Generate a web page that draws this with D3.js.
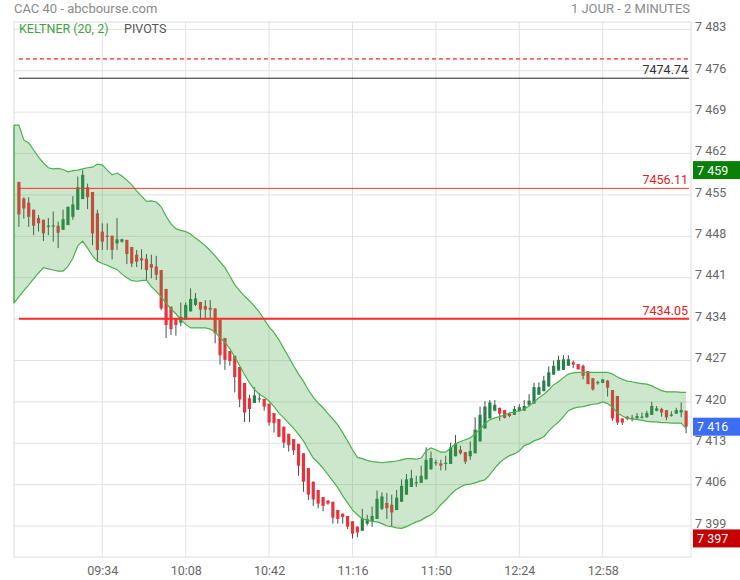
<!DOCTYPE html>
<html>
<head>
<meta charset="utf-8">
<script src="https://cdn.jsdelivr.net/npm/d3@7"></script>
<style>
    body { margin: 0; background: #fff; font-family: Roboto, "Open Sans", sans-serif; }
</style>
</head>
<body>
<svg id="chart" width="740" height="580"></svg>
<script>
// --- data (2 minute candles from 09:00) ---
const startTime = "09:00"
const stepMinutes = 2

const opens = [
    7457.2, 7454.4, 7453.7, 7452.5, 7451.1, 7450.8, 7449.6, 7449.75, 7449.8, 7449.1,
    7449.9, 7451.3, 7452.5, 7454.3, 7456.3, 7455.5, 7451.9, 7448.8, 7448.1, 7448.1,
    7446.8, 7447.1, 7447.4, 7446.2, 7444.9, 7444.3, 7444.2, 7443.3, 7442.9, 7442.3,
    7439.1, 7436.1, 7434.1, 7433.4, 7433.9, 7435.3, 7436.4, 7436.9, 7436.2, 7435.9,
    7435.8, 7433.9, 7430.8, 7428.6, 7427.8, 7425.9, 7423.2, 7420.6, 7419.8, 7420.5,
    7420.5, 7419.7, 7418.1, 7417.1, 7415.8, 7414.6, 7413.7, 7412.9, 7411.3, 7408.8,
    7406.5, 7405.1, 7403.9, 7403.3, 7403.1, 7401.7, 7401.1, 7400.7, 7399.8, 7398.9,
    7398.2, 7399.4, 7399.8, 7400.2, 7401.9, 7402.9, 7402.6, 7401.7, 7403.1, 7404.3,
    7405.6, 7406.3, 7406.3, 7406.9, 7408.6, 7409.6, 7409.6, 7409.6, 7409.5, 7410.8,
    7411.9, 7411.5, 7410.8, 7411.3, 7413.3, 7415.5, 7417.2, 7418.5, 7419.0, 7418.6,
    7418.0, 7417.8, 7418.4, 7418.5, 7419.5, 7419.7, 7421.2, 7421.8, 7422.6, 7424.6,
    7425.3, 7425.4, 7426.1, 7426.7, 7426.4, 7426.1, 7425.2, 7424.0, 7423.3, 7423.2,
    7423.6, 7422.0, 7421.0, 7417.2, 7417.5, 7417.2, 7417.2, 7417.4, 7417.4, 7417.8,
    7418.5, 7418.8, 7418.6, 7417.8, 7418.0, 7418.2, 7418.5
]
const highs = [
    7457.2, 7454.6, 7454.6, 7452.5, 7451.6, 7450.8, 7451.1, 7452.2, 7450.5, 7452.5,
    7453.0, 7454.8, 7458.1, 7459.2, 7456.9, 7455.5, 7452.5, 7450.2, 7450.2, 7448.1,
    7451.1, 7447.6, 7447.4, 7446.2, 7445.7, 7445.8, 7445.0, 7444.9, 7444.7, 7442.3,
    7439.1, 7436.1, 7434.1, 7436.8, 7436.8, 7439.2, 7438.4, 7436.9, 7437.2, 7437.2,
    7435.8, 7433.9, 7430.8, 7428.6, 7427.8, 7425.9, 7423.2, 7421.2, 7422.5, 7421.5,
    7420.5, 7419.7, 7418.1, 7417.1, 7415.8, 7414.6, 7413.7, 7412.9, 7411.3, 7408.8,
    7406.5, 7405.1, 7403.9, 7403.4, 7403.1, 7401.7, 7401.1, 7400.7, 7399.8, 7398.9,
    7401.9, 7400.9, 7402.3, 7405.0, 7404.7, 7404.6, 7404.3, 7405.1, 7406.9, 7407.8,
    7408.5, 7407.5, 7409.2, 7412.3, 7411.6, 7410.2, 7410.2, 7410.9, 7413.1, 7414.4,
    7412.6, 7411.5, 7413.3, 7417.4, 7419.2, 7420.1, 7420.3, 7420.3, 7419.0, 7418.6,
    7418.2, 7419.3, 7419.6, 7420.3, 7421.3, 7423.2, 7423.3, 7424.4, 7426.0, 7427.0,
    7427.8, 7427.9, 7427.9, 7427.0, 7426.4, 7426.3, 7425.2, 7424.0, 7423.6, 7423.9,
    7423.7, 7422.0, 7421.0, 7417.2, 7417.6, 7417.8, 7418.1, 7418.2, 7418.5, 7420.0,
    7419.3, 7419.0, 7418.6, 7418.4, 7419.0, 7419.9, 7418.5
]
const lows = [
    7449.6, 7451.0, 7449.6, 7448.2, 7448.8, 7447.2, 7448.2, 7447.1, 7446.0, 7449.1,
    7449.9, 7450.8, 7452.5, 7454.3, 7452.6, 7446.5, 7443.7, 7445.7, 7445.7, 7444.1,
    7445.7, 7446.9, 7443.3, 7442.8, 7442.8, 7442.4, 7440.6, 7440.9, 7440.6, 7435.5,
    7430.8, 7431.3, 7431.2, 7432.8, 7433.9, 7435.3, 7436.2, 7433.9, 7434.2, 7434.0,
    7429.9, 7426.3, 7425.4, 7426.1, 7421.6, 7419.1, 7416.6, 7416.6, 7419.8, 7419.9,
    7418.5, 7416.0, 7414.8, 7414.0, 7412.2, 7411.6, 7411.0, 7407.5, 7404.8, 7403.4,
    7402.4, 7402.0, 7401.5, 7402.6, 7399.4, 7399.4, 7399.4, 7398.5, 7396.9, 7397.1,
    7398.2, 7399.1, 7398.9, 7400.2, 7401.7, 7400.2, 7399.0, 7401.7, 7403.1, 7404.3,
    7405.6, 7405.6, 7406.3, 7406.9, 7408.5, 7409.2, 7408.4, 7408.4, 7409.5, 7410.8,
    7411.1, 7409.5, 7410.2, 7411.3, 7413.3, 7415.5, 7417.2, 7418.4, 7416.8, 7417.2,
    7417.4, 7417.8, 7418.4, 7418.5, 7419.2, 7419.7, 7421.2, 7421.8, 7422.6, 7424.6,
    7425.3, 7425.4, 7426.1, 7425.7, 7425.5, 7423.8, 7423.0, 7421.9, 7422.9, 7423.2,
    7420.9, 7416.8, 7416.1, 7416.1, 7416.9, 7416.7, 7417.2, 7417.2, 7417.3, 7417.8,
    7418.4, 7417.5, 7416.9, 7417.5, 7418.0, 7417.4, 7414.7
]
const closes = [
    7451.7, 7452.7, 7451.3, 7449.8, 7450.2, 7448.5, 7449.8, 7449.85, 7448.6, 7450.9,
    7453.0, 7453.4, 7456.3, 7458.4, 7454.6, 7448.5, 7445.7, 7447.1, 7448.0, 7445.7,
    7447.5, 7447.5, 7445.0, 7443.4, 7443.7, 7443.9, 7442.3, 7442.7, 7441.5, 7435.8,
    7433.0, 7432.3, 7433.0, 7434.4, 7436.4, 7437.4, 7437.5, 7435.6, 7435.6, 7435.6,
    7431.6, 7427.9, 7427.1, 7426.9, 7424.2, 7420.4, 7418.2, 7418.8, 7421.1, 7420.6,
    7419.2, 7416.5, 7416.4, 7414.1, 7413.1, 7412.7, 7411.8, 7409.2, 7406.5, 7404.3,
    7403.5, 7402.8, 7402.4, 7402.8, 7400.4, 7400.2, 7400.5, 7398.9, 7397.7, 7397.9,
    7400.3, 7400.2, 7400.7, 7403.6, 7404.0, 7402.0, 7401.3, 7403.8, 7405.8, 7406.9,
    7407.1, 7406.4, 7407.5, 7410.2, 7410.5, 7409.8, 7409.2, 7409.7, 7412.3, 7413.0,
    7411.3, 7409.9, 7411.7, 7415.3, 7417.8, 7419.2, 7419.9, 7419.5, 7418.0, 7417.3,
    7417.6, 7418.8, 7419.1, 7419.3, 7420.2, 7422.5, 7422.5, 7423.6, 7425.0, 7426.1,
    7427.1, 7427.2, 7427.2, 7426.3, 7425.5, 7424.4, 7423.0, 7422.1, 7423.35, 7423.8,
    7422.4, 7417.2, 7416.5, 7416.5, 7417.1, 7417.3, 7417.6, 7417.5, 7418.1, 7419.3,
    7418.9, 7418.2, 7417.4, 7417.85, 7418.6, 7418.6, 7415.8
]

// Keltner (20, 2) channel, one step earlier than the first candle (08:58)
const keltnerUpper = [
    7466.8, 7466.8, 7464.3, 7463.8, 7462.6, 7461.4, 7460.4, 7459.6, 7459.4, 7459.5, 7459.3,
    7458.9, 7459.1, 7459.2, 7459.4, 7459.6, 7459.7, 7460.2, 7460.1, 7459.2, 7458.4,
    7458.7, 7458.2, 7457.5, 7456.7, 7455.7, 7454.8, 7453.9, 7454.0, 7453.8, 7453.0,
    7451.4, 7450.1, 7449.3, 7449.0, 7448.8, 7448.4, 7447.7, 7447.1, 7446.4, 7445.6,
    7444.7, 7443.7, 7442.7, 7441.3, 7439.8, 7438.8, 7437.9, 7437.1, 7436.2, 7435.2,
    7433.9, 7432.7, 7431.7, 7430.5, 7429.0, 7427.6, 7426.1, 7424.7, 7423.5, 7422.0,
    7420.8, 7419.8, 7419.0, 7418.0, 7417.1, 7416.1, 7414.8, 7413.4, 7411.9, 7410.6,
    7410.4, 7410.1, 7409.9, 7409.8, 7409.7, 7409.8, 7409.9, 7410.0, 7410.2, 7410.4,
    7410.4, 7410.3, 7410.5, 7411.7, 7412.2, 7411.9, 7411.5, 7411.5, 7412.2, 7412.9,
    7413.3, 7413.6, 7413.9, 7414.6, 7415.4, 7416.3, 7417.0, 7417.3, 7417.5, 7417.8,
    7418.1, 7418.3, 7418.5, 7418.8, 7419.3, 7420.0, 7420.7, 7421.3, 7422.0, 7422.9,
    7423.4, 7424.1, 7424.7, 7424.9, 7425.0, 7425.0, 7425.0, 7425.0, 7425.0, 7425.0,
    7425.0, 7424.7, 7424.2, 7423.8, 7423.5, 7423.4, 7423.2, 7423.1, 7423.0, 7422.7,
    7422.3, 7421.9, 7421.7, 7421.7, 7421.7, 7421.6, 7421.6
]
const keltnerLower = [
    7436.7, 7437.8, 7438.8, 7439.8, 7440.8, 7441.8, 7442.7, 7442.5, 7442.3, 7442.1, 7442.1,
    7442.9, 7444.3, 7446.4, 7447.2, 7446.0, 7444.7, 7443.8, 7443.4, 7443.1, 7442.7,
    7442.4, 7441.6, 7441.0, 7440.5, 7440.4, 7440.5, 7440.6, 7439.5, 7438.7, 7437.7,
    7436.7, 7435.7, 7434.9, 7433.9, 7433.1, 7432.5, 7432.5, 7432.5, 7432.5, 7432.3,
    7431.8, 7430.9, 7430.0, 7429.0, 7427.6, 7426.1, 7424.6, 7423.2, 7422.1, 7421.3,
    7420.8, 7420.1, 7419.2, 7418.1, 7417.3, 7416.4, 7415.5, 7414.5, 7413.4, 7411.9,
    7410.5, 7409.7, 7408.8, 7407.7, 7406.6, 7405.5, 7404.1, 7402.9, 7401.7, 7400.9,
    7400.2, 7400.0, 7399.8, 7399.7, 7399.4, 7399.0, 7398.9, 7398.7, 7398.6, 7398.9,
    7399.3, 7399.7, 7400.0, 7400.5, 7400.9, 7401.6, 7402.6, 7403.4, 7404.3, 7405.1,
    7405.6, 7406.0, 7406.1, 7406.3, 7406.6, 7406.8, 7407.7, 7408.8, 7409.7, 7410.4,
    7410.9, 7411.2, 7411.7, 7412.6, 7412.9, 7413.4, 7413.7, 7414.1, 7415.1, 7415.9,
    7416.6, 7417.5, 7418.5, 7418.9, 7419.1, 7419.2, 7419.4, 7419.6, 7419.7, 7420.0,
    7419.7, 7419.1, 7418.1, 7417.6, 7417.2, 7417.1, 7417.0, 7416.9, 7416.7, 7416.6,
    7416.6, 7416.5, 7416.5, 7416.4, 7416.4, 7416.4, 7415.5
]

// pivot levels (dashed one first, then the labelled ones)
const pivotLevels = [7478.0, 7474.74, 7456.11, 7434.05]
const pivotLabels = ["", "7474.74", "7456.11", "7434.05"]

const yTickValues = [7483, 7476, 7469, 7462, 7455, 7448, 7441, 7434, 7427, 7420, 7413, 7406, 7399]
const xTickLabels = ["09:34", "10:08", "10:42", "11:16", "11:50", "12:24", "12:58"]

// --- layout ---
const plot = { left: 14, right: 691, top: 22, bottom: 557 }
const upColor = "#26804a"
const downColor = "#e8333b"
const bandStroke = "#4caf50"

const parseTime = d3.timeParse("%H:%M")
const t0 = parseTime(startTime)
const timeAt = i => d3.timeMinute.offset(t0, i * stepMinutes)

const candles = opens.map((o, i) => ({ t: timeAt(i), o, h: highs[i], l: lows[i], c: closes[i] }))
const band = keltnerUpper.map((u, i) => ({ t: timeAt(i - 1), u, l: keltnerLower[i] }))

const x = d3.scaleTime()
    .domain([timeAt(-1), timeAt(opens.length)])
    .range([plot.left, plot.right])

const y = d3.scaleLinear()
    .domain([7393.76, 7484.25])
    .range([plot.bottom, plot.top])

const svg = d3.select("#chart")
const fmt = v => d3.format(",")(v).replace(/,/g, " ")

// header
svg.append("text").attr("x", 14).attr("y", 13)
    .attr("fill", "#8a8a8a").attr("font-size", 13).text("CAC 40 - abcbourse.com")
svg.append("text").attr("x", 690).attr("y", 13).attr("text-anchor", "end")
    .attr("fill", "#8a8a8a").attr("font-size", 13).text("1 JOUR - 2 MINUTES")

// grid
const xTicks = xTickLabels.map(parseTime)
svg.append("g").selectAll("line").data(yTickValues).join("line")
    .attr("x1", plot.left).attr("x2", plot.right)
    .attr("y1", d => y(d)).attr("y2", d => y(d))
    .attr("stroke", "#e2e2e2")
svg.append("g").selectAll("line").data(xTicks).join("line")
    .attr("x1", d => x(d)).attr("x2", d => x(d))
    .attr("y1", plot.top).attr("y2", plot.bottom)
    .attr("stroke", "#e2e2e2")
svg.append("rect")
    .attr("x", plot.left).attr("y", plot.top)
    .attr("width", plot.right - plot.left).attr("height", plot.bottom - plot.top)
    .attr("fill", "none").attr("stroke", "#dcdcdc")

// axes
const yAxis = svg.append("g")
    .attr("transform", `translate(${plot.right},0)`)
    .call(d3.axisRight(y).tickValues(yTickValues).tickFormat(fmt).tickSize(0))
yAxis.select(".domain").remove()
yAxis.selectAll("text").attr("x", 4).attr("dy", "0.1em")
    .attr("fill", "#666").attr("font-size", 12.5).attr("font-family", "Roboto, sans-serif")

const xAxis = svg.append("g")
    .attr("transform", `translate(0,${plot.bottom})`)
    .call(d3.axisBottom(x).tickValues(xTicks).tickFormat(d3.timeFormat("%H:%M")).tickSize(0))
xAxis.select(".domain").remove()
xAxis.selectAll("text").attr("y", 9)
    .attr("fill", "#666").attr("font-size", 12.5).attr("font-family", "Roboto, sans-serif")

// candles
const bodyW = 3.2
const cg = svg.append("g")
cg.selectAll("line").data(candles).join("line")
    .attr("x1", d => x(d.t)).attr("x2", d => x(d.t))
    .attr("y1", d => y(d.h)).attr("y2", d => y(d.l))
    .attr("stroke", "#4a4a4a").attr("stroke-width", 1)
cg.selectAll("rect").data(candles).join("rect")
    .attr("x", d => x(d.t) - bodyW / 2)
    .attr("width", bodyW)
    .attr("y", d => y(Math.max(d.o, d.c)))
    .attr("height", d => Math.max(1.2, Math.abs(y(d.o) - y(d.c))))
    .attr("fill", d => d.c >= d.o ? upColor : downColor)

// keltner band, drawn over the candles with transparency
svg.append("path").datum(band)
    .attr("d", d3.area().x(d => x(d.t)).y0(d => y(d.l)).y1(d => y(d.u)))
    .attr("fill", "rgba(70,165,70,0.27)")
const lineU = d3.line().x(d => x(d.t)).y(d => y(d.u))
const lineL = d3.line().x(d => x(d.t)).y(d => y(d.l))
svg.append("path").datum(band).attr("d", lineU).attr("fill", "none").attr("stroke", bandStroke).attr("stroke-width", 1.2)
svg.append("path").datum(band).attr("d", lineL).attr("fill", "none").attr("stroke", bandStroke).attr("stroke-width", 1.2)
svg.append("line")
    .attr("x1", x(band[0].t)).attr("x2", x(band[0].t))
    .attr("y1", y(band[0].u)).attr("y2", y(band[0].l))
    .attr("stroke", bandStroke).attr("stroke-width", 1.5)

// pivots
const pivotStyle = [
    { color: "#ff2020", width: 1.2, dash: "4,3", text: "#e02020" },
    { color: "#222", width: 1, dash: null, text: "#333" },
    { color: "#ff3030", width: 1, dash: null, text: "#e02020" },
    { color: "#ff2a2a", width: 2, dash: null, text: "#e02020" }
]
const pg = svg.append("g")
pivotLevels.forEach((v, i) => {
    const s = pivotStyle[i]
    pg.append("line")
        .attr("x1", x(candles[0].t)).attr("x2", plot.right - 2)
        .attr("y1", y(v)).attr("y2", y(v))
        .attr("stroke", s.color).attr("stroke-width", s.width)
        .attr("stroke-dasharray", s.dash)
    if (pivotLabels[i]) {
        pg.append("text")
            .attr("x", plot.right - 3).attr("y", y(v) - 4)
            .attr("text-anchor", "end").attr("font-size", 12.5)
            .attr("fill", s.text).text(pivotLabels[i])
    }
})

// legend
svg.append("text").attr("x", 19).attr("y", 33).attr("font-size", 12.5)
    .attr("fill", "#3fa33f").text("KELTNER (20, 2)")
svg.append("text").attr("x", 124).attr("y", 33).attr("font-size", 12.5)
    .attr("fill", "#555").text("PIVOTS")

// price badges: day high, last, day low
const badges = [
    { v: d3.max(highs), color: "#0a800a" },
    { v: closes[closes.length - 1], color: "#3b6ef2" },
    { v: d3.min(lows), color: "#c40000" }
]
const bg = svg.append("g")
badges.forEach(b => {
    bg.append("rect").attr("x", 693).attr("y", y(b.v) - 9)
        .attr("width", 47).attr("height", 18).attr("fill", b.color)
    bg.append("text").attr("x", 697).attr("y", y(b.v) + 4.5)
        .attr("font-size", 12.5).attr("fill", "#fff").text(fmt(Math.round(b.v)))
})
</script>
</body>
</html>
